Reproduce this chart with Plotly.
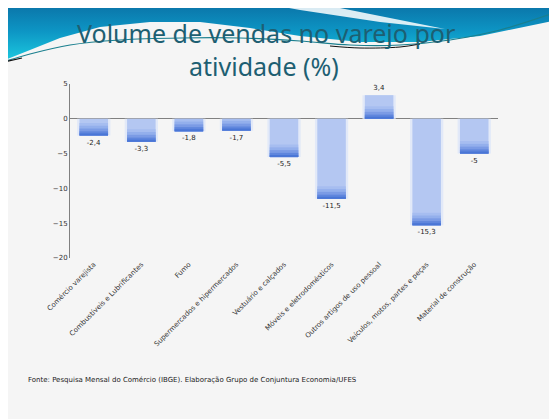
import plotly.graph_objects as go

# The page shows the figure offset by the browser's 8px body margin,
# so the figure is sized/placed to land on the reference pixel grid.
OFF = 8
W, H = 557 - OFF, 419 - OFF

categories = [
    "Comércio varejista",
    "Combustíveis e Lubrificantes",
    "Fumo",
    "Supermercados e hipermercados",
    "Vestuário e calçados",
    "Móveis e eletrodomésticos",
    "Outros artigos de uso pessoal",
    "Veículos, motos, partes e peças",
    "Material de construção",
]
values = [-2.4, -3.3, -1.8, -1.7, -5.5, -11.5, 3.4, -15.3, -5.0]
value_labels = ["-2,4", "-3,3", "-1,8", "-1,7", "-5,5", "-11,5", "3,4", "-15,3", "-5"]
y_ticks = [5, 0, -5, -10, -15, -20]

title_line1 = "Volume de vendas no varejo por"
title_line2 = "atividade (%)"
source_text = "Fonte: Pesquisa Mensal do Comércio (IBGE). Elaboração Grupo de Conjuntura Economia/UFES"

# decorative swoosh (reference pixel coords)
swoosh_x = [0, 557, 557, 480, 420, 360, 300, 250, 200, 150, 100, 60, 30, 0, 0]
swoosh_y = [0, 0, 20, 36, 42, 42, 36, 28, 22, 22, 27, 38, 50, 62, 0]
streak_x = [245, 300, 360, 445, 380, 300, 245]
streak_y = [0, 0, 12, 29, 22, 10, 0]
line_x = [0, 30, 70, 120, 180, 240, 300, 350, 400, 450, 500, 557]
line_y = [63, 54, 45, 40, 38, 38, 41, 45, 45, 40, 30, 12]


def pxx(x):
    return (x - OFF) / W


def pxy(y):
    return 1 - (y - OFF) / H


fig = go.Figure()

fig.add_trace(go.Scatter(
    x=swoosh_x, y=swoosh_y, mode="lines", fill="toself",
    line=dict(width=0, color="rgba(0,0,0,0)"),
    fillgradient=dict(type="vertical", start=0, stop=62,
                      colorscale=[[0, "#0a6ea3"], [0.5, "#0d95c4"], [1, "#1ccbe0"]]),
    xaxis="x2", yaxis="y2", hoverinfo="skip", showlegend=False))
fig.add_trace(go.Scatter(
    x=streak_x, y=streak_y, mode="lines", fill="toself",
    line=dict(width=0, color="rgba(0,0,0,0)"),
    fillcolor="rgba(255,255,255,0.85)",
    xaxis="x2", yaxis="y2", hoverinfo="skip", showlegend=False))
fig.add_trace(go.Scatter(
    x=line_x, y=line_y, mode="lines", line=dict(width=1.2, color="#1a7f8e", shape="spline"),
    xaxis="x2", yaxis="y2", hoverinfo="skip", showlegend=False))
fig.add_trace(go.Scatter(
    x=[0, 22], y=[63, 58], mode="lines", line=dict(width=1.2, color="#111111"),
    xaxis="x2", yaxis="y2", hoverinfo="skip", showlegend=False))
fig.add_trace(go.Scatter(
    x=[330, 360, 400, 420], y=[46, 48, 47, 44], mode="lines",
    line=dict(width=1, color="#111111", shape="spline"),
    xaxis="x2", yaxis="y2", hoverinfo="skip", showlegend=False))

fig.add_trace(go.Bar(
    x=categories, y=values, width=0.7,
    marker=dict(color="#e2e9f8", line=dict(width=0)),
    hoverinfo="skip", showlegend=False))
fig.add_trace(go.Bar(
    x=categories, y=values, width=0.6,
    marker=dict(color="#b4c7f2", line=dict(width=0)),
    text=value_labels, textposition="outside",
    textfont=dict(size=7, color="#222222", family="DejaVu Sans"),
    cliponaxis=False, showlegend=False))
layers = [(1.8, "#a6bdf0"), (1.4, "#93afec"), (1.0, "#7b9be5"), (0.6, "#5f86dd"), (0.3, "#4a76d6")]
for thick, col in layers:
    fig.add_trace(go.Bar(
        x=categories,
        y=[min(thick, abs(v)) for v in values],
        base=[min(0, v) for v in values],
        width=0.6,
        marker=dict(color=col, line=dict(width=0)),
        hoverinfo="skip", showlegend=False))

fig.update_layout(
    width=W, height=H,
    margin=dict(l=0, r=0, t=0, b=0),
    paper_bgcolor="#f5f5f5", plot_bgcolor="rgba(0,0,0,0)",
    barmode="overlay", bargap=0.3,
    separators=",.",
    xaxis=dict(domain=[pxx(70), pxx(498)], showgrid=False, showline=False,
               tickangle=-45, ticks="", automargin=False,
               tickfont=dict(size=7, color="#333333", family="DejaVu Sans")),
    yaxis=dict(domain=[pxy(258), pxy(84)], range=[-20, 5], tickvals=y_ticks,
               showgrid=False, showline=True, linecolor="#808080", linewidth=1,
               zeroline=True, zerolinecolor="#808080", zerolinewidth=1,
               ticks="", automargin=False,
               tickfont=dict(size=7, color="#333333", family="DejaVu Sans")),
    xaxis2=dict(domain=[0, 1], range=[OFF, 557], visible=False, fixedrange=True),
    yaxis2=dict(domain=[0, 1], range=[419, OFF], visible=False, fixedrange=True, anchor="x2"),
    annotations=[
        dict(text=title_line1, x=pxx(266), y=pxy(33), xref="paper", yref="paper",
             showarrow=False, xanchor="center", yanchor="middle",
             font=dict(size=25, color="#1d5f72", family="Noto Sans")),
        dict(text=title_line2, x=pxx(264), y=pxy(66), xref="paper", yref="paper",
             showarrow=False, xanchor="center", yanchor="middle",
             font=dict(size=25, color="#1d5f72", family="Noto Sans")),
        dict(text=source_text, x=pxx(26), y=pxy(380), xref="paper", yref="paper",
             showarrow=False, xanchor="left", yanchor="middle",
             font=dict(size=7, color="#222222", family="DejaVu Sans")),
    ],
)

fig.write_html("out.html")
